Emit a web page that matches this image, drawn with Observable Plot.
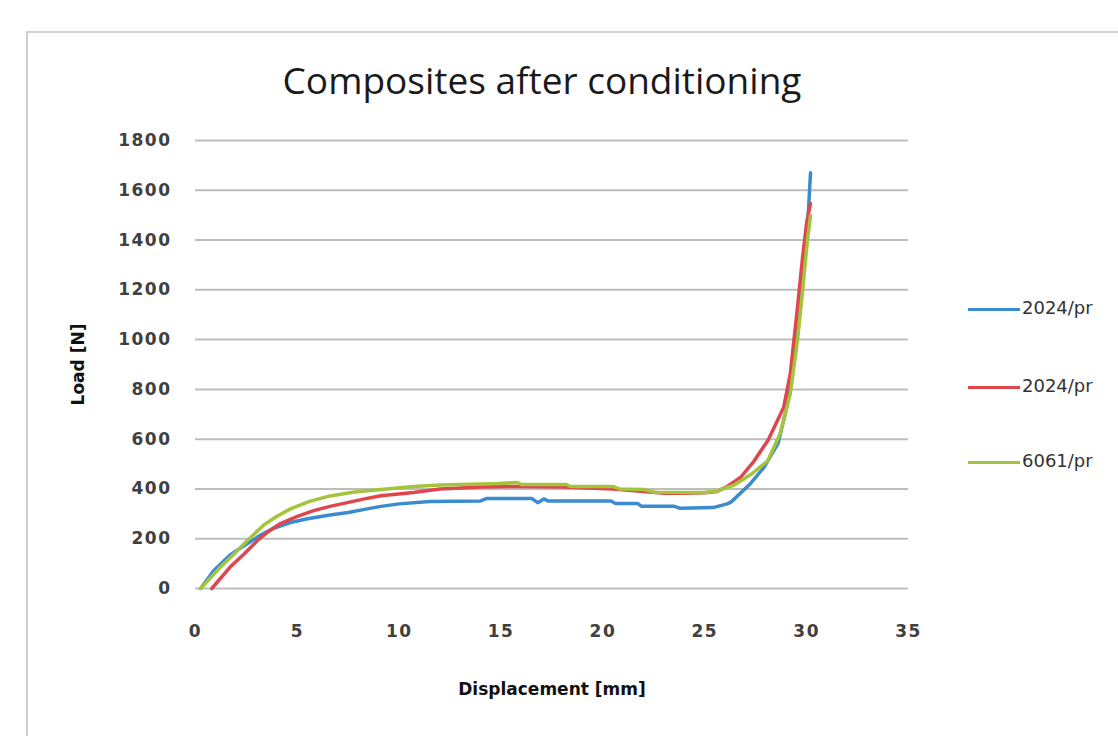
<!DOCTYPE html>
<html>
<head>
<meta charset="utf-8">
<script src="https://cdn.jsdelivr.net/npm/d3@7"></script>
<script src="https://cdn.jsdelivr.net/npm/@observablehq/plot@0.6"></script>
<style>
  html, body { margin: 0; padding: 0; background: #fff; overflow: hidden; }
  #wrap { position: relative; width: 1118px; height: 736px; overflow: hidden; }
  #frame { position: absolute; left: 26px; top: 31px; width: 1200px; height: 800px;
           border-left: 2px solid #cfcfcf; border-top: 2px solid #cfcfcf; }
  #title { position: absolute; left: 0; top: 54px; width: 1084px; text-align: center;
           font-family: "Open Sans", sans-serif; font-size: 37px; color: #1a1a1a; }
  #chart { position: absolute; left: 0; top: 0; }
  .legend { position: absolute; left: 968px; font-family: "DejaVu Sans", sans-serif;
            font-size: 18px; color: #333; white-space: nowrap; }
  .legend span.sw { display: inline-block; width: 52px; height: 3px; vertical-align: middle; margin-right: 2px; }
</style>
</head>
<body>
<div id="wrap">
  <div id="frame"></div>
  <div id="chart"></div>
  <div id="title">Composites after conditioning</div>
  <div id="legend"></div>
</div>
<script>
// ---- data ----
const seriesNames = ["2024/pr", "2024/pr ", "6061/pr"];
const seriesColors = ["#3b8bd0", "#e0464b", "#a4c43c"];

const blueX = [0.25, 0.9, 1.7, 2.55, 3.2, 3.8, 4.66, 5.5, 6.6, 7.5, 8.3, 9.1, 10, 11.5, 14, 14.3, 16.5, 16.8, 17.1, 17.3, 20.4, 20.6, 21.7, 21.9, 23.5, 23.8, 25.4, 26.1, 26.3, 27.25, 27.9, 28.6, 29.0, 29.3, 29.6, 29.85, 30.05, 30.19];
const blueY = [0, 72, 135, 181, 215, 241, 265, 280, 295, 305, 318, 330, 340, 350, 352, 362, 362, 345, 360, 352, 352, 342, 342, 330, 330, 322, 325, 340, 348, 422, 486, 583, 720, 880, 1060, 1260, 1460, 1670];

const redX = [0.8, 1.7, 2.4, 3.04, 3.6, 4.17, 5, 5.8, 6.6, 7.45, 8.3, 9.1, 10.7, 12, 14, 15.8, 18, 20.5, 22, 23, 24, 25, 25.6, 26.1, 26.75, 27.4, 28.1, 28.87, 29.2, 29.55, 29.8, 30.0, 30.19];
const redY = [0, 86, 140, 193, 230, 261, 290, 313, 330, 345, 360, 373, 386, 400, 408, 410, 408, 400, 390, 383, 383, 385, 390, 410, 446, 510, 595, 727, 864, 1129, 1330, 1470, 1547];

const greenX = [0.25, 1.2, 1.9, 2.55, 3.35, 4, 4.66, 5.6, 6.6, 7.8, 9.1, 10.7, 12, 14.9, 15.8, 16, 18.2, 18.4, 20.5, 20.8, 22, 22.5, 25, 25.6, 26.4, 27.3, 28.1, 28.7, 29.2, 29.55, 29.8, 30.04, 30.19];
const greenY = [0, 84, 140, 193, 255, 290, 320, 350, 372, 388, 398, 410, 416, 422, 426, 418, 418, 410, 410, 400, 398, 387, 386, 392, 414, 460, 514, 623, 783, 996, 1197, 1398, 1499];

const xTicks = [0, 5, 10, 15, 20, 25, 30, 35];
const yTicks = [0, 200, 400, 600, 800, 1000, 1200, 1400, 1600, 1800];

// ---- build tables ----
const seriesX = [blueX, redX, greenX];
const seriesY = [blueY, redY, greenY];
const rows = [];
seriesX.forEach((xs, i) => xs.forEach((x, j) => rows.push({series: seriesNames[i], x, y: seriesY[i][j]})));

const font = '"DejaVu Sans", sans-serif';
const fmt = d3.format("d");
const chart = Plot.plot({
  width: 1118,
  height: 736,
  marginLeft: 195,
  marginRight: 210,
  marginTop: 140,
  marginBottom: 148,
  style: {fontFamily: font, fontSize: "17px", color: "#3a3a3a", background: "transparent"},
  x: {domain: [0, 35], ticks: xTicks, tickSize: 0, tickPadding: 36, label: null},
  y: {domain: [0, 1800], ticks: yTicks, tickSize: 0, tickPadding: 24, label: null},
  color: {domain: seriesNames, range: seriesColors},
  marks: [
    Plot.ruleY(yTicks, {stroke: "#bdbdbd", strokeWidth: 2}),
    Plot.axisX({ticks: xTicks, tickSize: 0, tickPadding: 36, fontWeight: "bold", fill: "#404040", tickFormat: fmt,
                label: "Displacement [mm]", labelAnchor: "center", labelOffset: 106, labelArrow: "none"}),
    Plot.axisY({ticks: yTicks, tickSize: 0, tickPadding: 24, fontWeight: "bold", fill: "#404040", tickFormat: fmt,
                label: "Load [N]", labelAnchor: "center", labelOffset: 124, labelArrow: "none"}),
    Plot.line(rows, {x: "x", y: "y", z: "series", stroke: "series", strokeWidth: 3.5,
                     curve: "linear", strokeLinejoin: "round"})
  ]
});
// style the axis labels (bold, dark)
chart.querySelectorAll("g[aria-label='x-axis label'] text, g[aria-label='y-axis label'] text").forEach(t => {
  t.setAttribute("font-weight", "bold");
  t.setAttribute("fill", "#111");
});
chart.querySelectorAll("g[aria-label='y-axis tick label'] text, g[aria-label='x-axis tick label'] text").forEach(t => {
  t.setAttribute("letter-spacing", "1.5");
});
document.getElementById("chart").appendChild(chart);

// ---- legend ----
const legendTops = [297, 375, 450];
const lg = document.getElementById("legend");
seriesNames.forEach((n, i) => {
  const d = document.createElement("div");
  d.className = "legend";
  d.style.top = legendTops[i] + "px";
  d.innerHTML = `<span class="sw" style="background:${seriesColors[i]}"></span>${n}`;
  lg.appendChild(d);
});
</script>
</body>
</html>
